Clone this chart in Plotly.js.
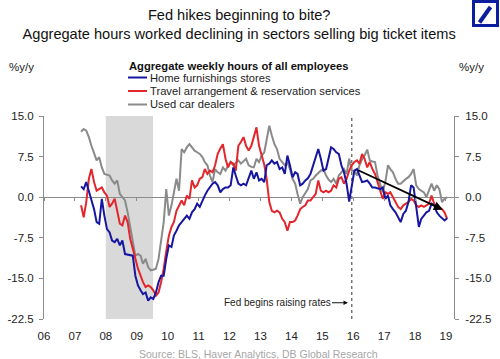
<!DOCTYPE html>
<html>
<head>
<meta charset="utf-8">
<script src="https://cdn.plot.ly/plotly-3.0.1.min.js"></script>
<style>
html,body{margin:0;padding:0;background:#ffffff;}
#chart{width:500px;height:359px;}
</style>
</head>
<body>
<div id="chart"></div>
<script>
// ---------- DATA (monthly, % y/y, Mar 2007 .. Jan 2019) ----------
const firstYear = 2007;
const firstMonth = 3;

const homeFurnishings = [
  2.0, 1.5, 2.8, 0.9, -0.5, -2.2, -4.6, -4.9, -0.3, -3.4,
  -5.9, -6.5, -8.0, -8.3, -7.7, -8.9, -8.0, -10.5, -10.6, -10.8, -10.8, -14.5,
  -16.3, -17.2, -17.9, -17.6, -19.1, -18.5, -18.8, -17.6, -15.7, -14.5, -14.5, -11.4,
  -8.9, -9.2, -7.1, -6.2, -5.2, -4.6, -4.0, -3.4, -4.0, -2.8, -2.2, -1.2,
  -1.8, -0.6, 0.3, 1.2, 1.8, 2.5, 2.8, 2.2, 0.9, 1.5, 1.8, 1.8,
  2.2, 5.5, 4.0, 2.5, 2.2, 2.5, 2.2, 3.4, 4.9, 3.4, 4.6, 3.1,
  3.4, 2.8, 5.9, 6.2, 6.8, 6.2, 6.5, 5.2, 5.5, 4.3, 7.7, 5.9,
  3.7, 4.6, 4.3, 2.2, 2.5, 3.1, 3.5, 4.3, 5.9, 7.7, 8.9, 7.1,
  4.9, 5.2, 7.1, 9.2, 8.9, 8.3, 8.0, 5.9, 4.6, 2.5, -0.8, 2.2,
  4.9, 5.2, 4.0, 2.8, 2.9, 3.1, 2.5, 1.8, 1.8, 1.7, 1.5, 1.8,
  -0.3, 0.3, -1.5, -2.2, -2.8, -3.7, -4.6, -3.1, -2.5, -0.9, 2.2, 1.8,
  -1.5, -5.5, -4.0, -3.4, -2.8, -2.5, -1.2, -1.5, -2.8, -3.4, -3.9, -4.3,
  -3.9
];

const travelArrangement = [
  -1.5, -3.7, -0.9, 3.4, 5.2, 2.8, 1.2, 1.5, 1.8, 0.9,
  0.3, -1.8, -1.2, -0.3, -2.5, -4.9, -5.2, -3.4, -4.6, -7.7, -9.5, -11.4,
  -13.2, -14.5, -15.7, -16.6, -16.3, -16.6, -17.2, -18.2, -17.6, -15.7, -13.2, -10.0,
  -7.1, -5.5, -4.6, -2.5, -1.5, -0.6, -1.5, 0.3, -0.3, 3.1, 1.8, 2.2,
  3.4, 3.7, 5.2, 4.3, 4.9, 4.6, 5.9, 8.0, 9.0, 9.8, 7.1, 5.5,
  6.5, 6.2, 4.9, 9.5, 10.2, 11.1, 9.5, 8.6, 9.5, 11.1, 12.9, 9.5,
  7.7, 6.0, 3.4, -0.9, -2.5, -2.8, -2.5, -2.8, -4.0, -4.6, -6.2, -4.6,
  -4.6, -4.3, -3.4, -2.2, -1.8, -1.5, -0.6, -0.6, 0.0, 0.6, 3.1, 1.2,
  0.9, 1.2, 0.9, 1.2, 2.2, 1.8, 3.4, 3.7, 2.5, 3.4, 4.9, 5.9,
  6.5, 6.8, 6.2, 8.0, 7.1, 5.5, 6.5, 5.2, 4.3, 2.8, 1.2, -0.3,
  0.9, 0.6, 0.9, 0.0, -0.9, -1.8, -2.2, -1.5, -1.2, -0.9, -0.3, -0.6,
  -1.5, -1.8, -1.5, -1.8, -1.5, -1.2, 0.3, -1.2, -2.2, -1.8, -2.2, -2.8,
  -4.0
];

const usedCarDealers = [
  12.1, 12.6, 12.3, 11.1, 9.5, 8.0, 6.8, 7.4, 5.5, 4.3,
  4.2, 4.0, 3.1, 2.5, 3.1, 0.6, 0.0, -0.6, -2.8, -5.2, -7.7, -10.8,
  -10.5, -10.8, -12.3, -11.4, -12.9, -13.5, -13.4, -13.2, -11.4, -7.7, -4.6, 1.5,
  -3.4, -1.5, 1.0, 3.4, 1.2, 8.9, 8.3, 9.2, 9.8, 9.2, 8.6, 8.3,
  8.0, 7.4, 6.5, 5.9, 4.0, 2.8, 5.2, 4.6, 4.3, 5.5, 4.9, 5.8,
  6.5, 5.9, 6.3, 6.8, 6.2, 6.6, 7.1, 5.9, 5.6, 5.5, 7.1, 6.5,
  7.7, 8.3, 10.8, 13.2, 11.4, 9.8, 8.9, 7.1, 6.5, 5.9, 6.5, 5.2,
  3.4, 2.5, 0.6, -1.2, 0.0, 0.8, 1.5, 3.1, 3.4, 4.0, 4.5, 4.9,
  5.2, 4.0, 3.3, 2.8, 3.4, 2.5, 4.0, 4.6, 5.2, 4.3, 7.1, 4.9,
  4.9, 4.0, 5.9, 7.0, 7.7, 8.8, 6.8, 6.6, 6.5, 4.0, 2.2, 0.9,
  2.8, 5.9, 5.2, 4.6, 3.4, 2.5, 2.5, 3.0, 3.4, 3.7, 4.3, 5.2,
  2.2, 1.5, 1.2, 0.9, 0.0, 1.2, 2.5, 1.2, 2.2, 1.5, -0.9, -0.3,
  0.0
];

const seriesNames = ['Home furnishings stores', 'Travel arrangement & reservation services', 'Used car dealers'];
const yearTickLabels = ['06','07','08','09','10','11','12','13','14','15','16','17','18','19'];
const yTickValues = [-22.5, -15, -7.5, 0, 7.5, 15];

const recessionPeriod = ['2008-01-01', '2009-07-12'];
const fedHikeDate = '2015-12-16';
const trendStart = {date: '2016-02-12', value: 5.1};
const trendEnd = {date: '2018-11-25', value: -2.3};

// ---------- HELPERS ----------
function monthlyDates(n) {
  const out = [];
  for (let i = 0; i < n; i++) {
    const k = firstMonth - 1 + i;
    const y = firstYear + Math.floor(k / 12);
    const m = (k % 12) + 1;
    out.push(y + '-' + String(m).padStart(2, '0') + '-15');
  }
  return out;
}
// pixel -> paper conversion for decorations (plot area 44..454 x 116..319)
const PL = 44, PR = 454, PT = 116, PB = 319;
const fx = px => (px - PL) / (PR - PL);
const fy = py => (PB - py) / (PB - PT);

const FONT = 'Liberation Sans, Arial, Helvetica, sans-serif';
const colors = ['#1616a0', '#e2262b', '#8a8a8a'];
const seriesData = [homeFurnishings, travelArrangement, usedCarDealers];

// ---------- TRACES ----------
const traces = seriesData.map((vals, i) => ({
  type: 'scatter',
  mode: 'lines',
  name: seriesNames[i],
  x: monthlyDates(vals.length),
  y: vals,
  line: {color: colors[i], width: 2},
  showlegend: false,
  hoverinfo: 'skip'
}));
// draw gray first, then red, then blue on top
const ordered = [traces[2], traces[1], traces[0]];
// helper trace to materialise the zero-line tick axis
ordered.push({type: 'scatter', mode: 'lines', x: [recessionPeriod[0]], y: [0], xaxis: 'x2', yaxis: 'y',
  showlegend: false, hoverinfo: 'skip', line: {color: 'rgba(0,0,0,0)'}});
// helper for right axis
ordered.push({type: 'scatter', mode: 'lines', x: [recessionPeriod[0]], y: [0], xaxis: 'x', yaxis: 'y2',
  showlegend: false, hoverinfo: 'skip', line: {color: 'rgba(0,0,0,0)'}});

const xRange = ['2006-01-01', '2019-04-06'];
const tickVals = yearTickLabels.map(t => '20' + t + '-01-01');
const yTickText = yTickValues.map(v => v.toFixed(1));
const axisGray = '#8c8c8c';

// ---------- ANNOTATIONS ----------
const annotations = [
  {xref: 'paper', yref: 'paper', x: fx(21), y: fy(67), text: '%y/y', showarrow: false,
   xanchor: 'center', yanchor: 'middle', font: {family: FONT, size: 11.5, color: '#222'}},
  {xref: 'paper', yref: 'paper', x: fx(471), y: fy(67), text: '%y/y', showarrow: false,
   xanchor: 'center', yanchor: 'middle', font: {family: FONT, size: 11.5, color: '#222'}},
  {xref: 'paper', yref: 'paper', x: fx(127), y: fy(66.5), text: '<b>Aggregate weekly hours of all employees</b>',
   showarrow: false, xanchor: 'left', yanchor: 'middle', font: {family: FONT, size: 11.2, color: '#111'}},
  {xref: 'paper', yref: 'paper', x: fx(258), y: fy(354), text: 'Source: BLS, Haver Analytics, DB Global Research',
   showarrow: false, xanchor: 'center', yanchor: 'middle', font: {family: FONT, size: 10.5, color: '#a6a6a6'}},
  {xref: 'x', yref: 'y', x: '2015-11-01', y: -19.5, ax: -71, ay: 0, axref: 'pixel', ayref: 'pixel',
   text: 'Fed begins raising rates', showarrow: true, arrowhead: 2, arrowsize: 0.9, arrowwidth: 1,
   arrowcolor: '#111', font: {family: FONT, size: 10, color: '#222'}},
  {xref: 'x', yref: 'y', x: trendEnd.date, y: trendEnd.value, axref: 'x', ayref: 'y',
   ax: trendStart.date, ay: trendStart.value, text: '', showarrow: true, arrowhead: 2,
   arrowsize: 1, arrowwidth: 1.8, arrowcolor: '#000'}
];
seriesNames.forEach((nm, i) => {
  annotations.push({xref: 'paper', yref: 'paper', x: fx(148), y: fy(77.5 + 13.5 * i), text: nm,
    showarrow: false, xanchor: 'left', yanchor: 'middle', font: {family: FONT, size: 11.2, color: '#222'}});
});

// ---------- SHAPES ----------
const shapes = [
  {type: 'rect', xref: 'x', yref: 'paper', x0: recessionPeriod[0], x1: recessionPeriod[1], y0: 0, y1: 1,
   fillcolor: '#d9d9d9', line: {width: 0}, layer: 'below'},
  {type: 'line', xref: 'x', yref: 'paper', x0: fedHikeDate, x1: fedHikeDate, y0: 0, y1: 1,
   line: {color: '#333', width: 1, dash: 'dot'}, layer: 'below'},
  // logo
  {type: 'rect', xref: 'paper', yref: 'paper', x0: fx(473.5), x1: fx(497.5), y0: fy(25.5), y1: fy(1.5),
   fillcolor: '#ffffff', line: {color: '#0b1f9e', width: 3}},
  {type: 'line', xref: 'paper', yref: 'paper', x0: fx(479.5), x1: fx(490.5), y0: fy(22.5), y1: fy(7),
   line: {color: '#0b1f9e', width: 4}}
];
colors.forEach((c, i) => {
  shapes.push({type: 'line', xref: 'paper', yref: 'paper', x0: fx(128), x1: fx(147),
    y0: fy(77.5 + 13.5 * i), y1: fy(77.5 + 13.5 * i), line: {color: c, width: 2}});
});

// ---------- LAYOUT ----------
const layout = {
  width: 500, height: 359,
  margin: {l: PL, r: 500 - PR, t: PT, b: 359 - PB, pad: 0},
  paper_bgcolor: '#ffffff', plot_bgcolor: 'rgba(0,0,0,0)',
  font: {family: FONT, size: 11.5, color: '#222'},
  title: {
    text: 'Fed hikes beginning to bite?<br>Aggregate hours worked declining in sectors selling big ticket items',
    font: {family: FONT, size: 14.6, color: '#111'},
    x: 0.476, xanchor: 'center', xref: 'paper',
    y: 0.943, yanchor: 'top', yref: 'container'
  },
  showlegend: false,
  xaxis: {
    type: 'date', range: xRange, tickvals: tickVals, ticktext: yearTickLabels,
    showgrid: false, zeroline: false, showline: false, ticks: '',
    tickfont: {family: FONT, size: 11.5, color: '#222'}, ticklabelstandoff: 8, fixedrange: true
  },
  xaxis2: {
    type: 'date', overlaying: 'x', matches: 'x', anchor: 'free', position: 0.6, side: 'bottom',
    range: xRange, tickvals: tickVals, showticklabels: false, ticks: 'outside', ticklen: 3,
    tickcolor: axisGray, tickwidth: 1, showgrid: false, zeroline: false, showline: false
  },
  yaxis: {
    range: [-22.5, 15], tickvals: yTickValues, ticktext: yTickText,
    showgrid: false, zeroline: true, zerolinecolor: axisGray, zerolinewidth: 1,
    showline: true, linecolor: axisGray, linewidth: 1, ticks: 'outside', ticklen: 4,
    tickcolor: axisGray, tickfont: {family: FONT, size: 11.5, color: '#222'}, ticklabelstandoff: 3
  },
  yaxis2: {
    range: [-22.5, 15], overlaying: 'y', side: 'right', anchor: 'x', tickvals: yTickValues, ticktext: yTickText,
    showgrid: false, zeroline: false, showline: true, linecolor: axisGray, linewidth: 1,
    ticks: 'outside', ticklen: 4, tickcolor: axisGray,
    tickfont: {family: FONT, size: 11.5, color: '#222'}, ticklabelstandoff: 4
  },
  annotations: annotations,
  shapes: shapes
};

Plotly.newPlot('chart', ordered, layout, {displayModeBar: false, staticPlot: true});
</script>
</body>
</html>
